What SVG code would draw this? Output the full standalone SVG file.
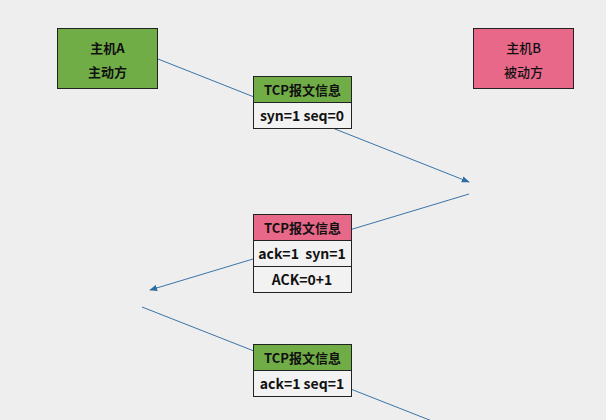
<svg xmlns="http://www.w3.org/2000/svg" width="606" height="420" viewBox="0 0 606 420">
<defs>
<marker id="arr" viewBox="0 0 10 10" refX="9" refY="5" markerWidth="8" markerHeight="8" markerUnits="userSpaceOnUse" orient="auto">
<path d="M0,1 L10,5 L0,9 Z" fill="#2e6da4"/>
</marker>
<style>
.t{font-family:"Noto Sans CJK SC","Liberation Sans",sans-serif;font-size:13px;fill:#111;text-anchor:middle;dominant-baseline:central}
.b{font-weight:bold}
.r{font-size:14px;font-weight:600}
.g{fill:#70ad47;stroke:#222;stroke-width:1}
.p{fill:#e8688a;stroke:#222;stroke-width:1}
.w{fill:#f2f2f2;stroke:#222;stroke-width:1}
.c{stroke:#3a74a8;stroke-width:1;fill:none}
</style>
</defs>
<rect width="606" height="420" fill="#eeeeee"/>
<g id="connectors">
<line class="c" x1="158" y1="59" x2="469" y2="182" marker-end="url(#arr)"/>
<line class="c" x1="469" y1="194" x2="150" y2="290" marker-end="url(#arr)"/>
<line class="c" x1="142" y1="307" x2="432" y2="421"/>
</g>
<g id="hostA">
<rect class="g" x="57.5" y="28.5" width="100" height="60"/>
<text class="t b" x="107.5" y="47">主机A</text>
<text class="t b" x="107.5" y="71">主动方</text>
</g>
<g id="hostB">
<rect class="p" x="473.5" y="28.5" width="100" height="60"/>
<text class="t" x="523.5" y="47" style="font-weight:500">主机B</text>
<text class="t" x="523.5" y="71" style="font-weight:500">被动方</text>
</g>
<g id="msg1">
<rect class="g" x="253.5" y="76.5" width="98" height="26"/>
<rect class="w" x="253.5" y="102.5" width="98" height="26"/>
<text class="t b" x="302.5" y="89">TCP报文信息</text>
<text class="t r" x="302" y="115">syn=1 seq=0</text>
</g>
<g id="msg2">
<rect class="p" x="253.5" y="214.5" width="98" height="26"/>
<rect class="w" x="253.5" y="240.5" width="98" height="26"/>
<rect class="w" x="253.5" y="266.5" width="98" height="26"/>
<text class="t b" x="302.5" y="227">TCP报文信息</text>
<text class="t r" x="302" y="253" xml:space="preserve">ack=1  syn=1</text>
<text class="t r" x="302" y="279">ACK=0+1</text>
</g>
<g id="msg3">
<rect class="g" x="253.5" y="344.5" width="98" height="26"/>
<rect class="w" x="253.5" y="370.5" width="98" height="26"/>
<text class="t b" x="302.5" y="357">TCP报文信息</text>
<text class="t r" x="302" y="383">ack=1 seq=1</text>
</g>
</svg>
